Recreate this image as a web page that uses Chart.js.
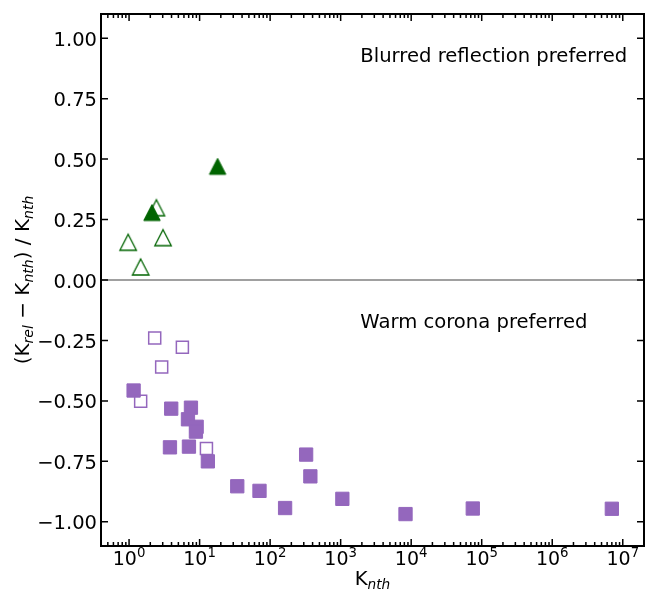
<!DOCTYPE html>
<html>
<head>
<meta charset="utf-8">
<script src="https://cdn.jsdelivr.net/npm/chart.js@4.4.1/dist/chart.umd.min.js"></script>
<style>
  html, body { margin: 0; padding: 0; background: #fff; }
  #wrap { width: 655px; height: 591px; }
</style>
</head>
<body>
<div id="wrap"><canvas id="chart" width="655" height="591"></canvas></div>
<script>
// valeurs
const kNthOpenTri = [0.97, 1.46, 2.44, 3.03];
const ratioOpenTri = [0.156, 0.054, 0.299, 0.175];
const kNthFilledTri = [2.11, 18.0];
const ratioFilledTri = [0.279, 0.470];
const kNthOpenSq = [2.31, 5.70, 2.90, 1.46, 12.5];
const ratioOpenSq = [-0.240, -0.278, -0.360, -0.501, -0.697];
const kNthFilledSq = [1.16, 3.96, 7.54, 6.84, 9.08, 8.87, 3.80, 7.06, 13.1, 34.2, 70.7, 163, 324, 372, 1057, 8310, 74700, 7.0e6];
const ratioFilledSq = [-0.457, -0.532, -0.528, -0.576, -0.607, -0.627, -0.692, -0.689, -0.750, -0.853, -0.872, -0.943, -0.722, -0.812, -0.905, -0.968, -0.945, -0.946];

// ticks
const xMajorTicks = [1, 10, 100, 1e3, 1e4, 1e5, 1e6, 1e7];
const xTickExp = ['0', '1', '2', '3', '4', '5', '6', '7'];
const yTicks = [1, 0.75, 0.5, 0.25, 0, -0.25, -0.5, -0.75, -1];
const yTickLabels = ['1.00', '0.75', '0.50', '0.25', '0.00', '\u22120.25', '\u22120.50', '\u22120.75', '\u22121.00'];

// annotations (coordonnées données)
const notes = [
    { text: 'Blurred reflection preferred', x: 1900, y: 0.9 },
    { text: 'Warm corona preferred', x: 1900, y: -0.2 }
];

const GREEN = '#006400';
const PURPLE = '#9467bd';
const FONT = "'DejaVu Sans', sans-serif";

function toPoints(xs, ys) {
    return xs.map((x, i) => ({ x: x, y: ys[i] }));
}

// triangle centré sur sa boîte englobante (comme matplotlib '^')
function triangleImg(filled) {
    const c = document.createElement('canvas');
    c.width = 24; c.height = 24;
    const g = c.getContext('2d');
    const w = 16.5, h = 16;
    g.beginPath();
    g.moveTo(12, 12 - h / 2);
    g.lineTo(12 + w / 2, 12 + h / 2);
    g.lineTo(12 - w / 2, 12 + h / 2);
    g.closePath();
    g.strokeStyle = GREEN;
    if (filled) {
        g.fillStyle = GREEN;
        g.fill();
        g.lineWidth = 1;
    } else {
        g.lineWidth = 1.3;
    }
    g.stroke();
    return c;
}

// texte avec indices / exposants façon mathtext
function richWidth(ctx, parts, size) {
    let w = 0;
    parts.forEach(p => {
        const s = p[1] === 'n' ? size : size * 0.7;
        ctx.font = (p[1] === 'sub' ? 'italic ' : '') + s + 'px ' + FONT;
        w += ctx.measureText(p[0]).width;
    });
    return w;
}

function drawRich(ctx, parts, x, y, size, align) {
    const w = richWidth(ctx, parts, size);
    let cx = align === 'center' ? x - w / 2 : (align === 'right' ? x - w : x);
    ctx.textAlign = 'left';
    ctx.textBaseline = 'alphabetic';
    parts.forEach(p => {
        let s = size, dy = 0, style = '';
        if (p[1] === 'sub') { s = size * 0.7; dy = size * 0.22; style = 'italic '; }
        if (p[1] === 'sup') { s = size * 0.7; dy = -size * 0.4; }
        ctx.font = style + s + 'px ' + FONT;
        ctx.fillText(p[0], cx, y + dy);
        cx += ctx.measureText(p[0]).width;
    });
}

const decor = {
    id: 'decor',
    beforeDatasetsDraw(chart) {
        const ctx = chart.ctx, a = chart.chartArea;
        const y0 = chart.scales.y.getPixelForValue(0);
        ctx.save();
        ctx.strokeStyle = '#808080';
        ctx.lineWidth = 1.5;
        ctx.beginPath();
        ctx.moveTo(a.left, y0);
        ctx.lineTo(a.right, y0);
        ctx.stroke();
        ctx.restore();
    },
    afterDraw(chart) {
        const ctx = chart.ctx, a = chart.chartArea;
        const xs = chart.scales.x, ys = chart.scales.y;
        ctx.save();
        ctx.strokeStyle = '#000';
        ctx.fillStyle = '#000';
        ctx.lineWidth = 1.5;

        // ticks vers l'intérieur
        ctx.beginPath();
        xMajorTicks.forEach(v => {
            const px = xs.getPixelForValue(v);
            ctx.moveTo(px, a.bottom); ctx.lineTo(px, a.bottom - 7);
            ctx.moveTo(px, a.top); ctx.lineTo(px, a.top + 7);
        });
        for (let e = -1; e <= 7; e++) {
            for (let m = 2; m <= 9; m++) {
                const v = m * Math.pow(10, e);
                if (v < xs.min || v > xs.max) continue;
                const px = xs.getPixelForValue(v);
                ctx.moveTo(px, a.bottom); ctx.lineTo(px, a.bottom - 4);
                ctx.moveTo(px, a.top); ctx.lineTo(px, a.top + 4);
            }
        }
        yTicks.forEach(v => {
            const py = ys.getPixelForValue(v);
            ctx.moveTo(a.left, py); ctx.lineTo(a.left + 7, py);
            ctx.moveTo(a.right, py); ctx.lineTo(a.right - 7, py);
        });
        ctx.stroke();

        // cadre
        ctx.lineWidth = 2;
        ctx.strokeRect(a.left, a.top, a.right - a.left, a.bottom - a.top);

        // labels des ticks
        ctx.textAlign = 'right';
        ctx.textBaseline = 'alphabetic';
        ctx.font = '19.5px ' + FONT;
        yTicks.forEach((v, i) => {
            const py = ys.getPixelForValue(v);
            ctx.fillText(yTickLabels[i], a.left - 4, py + 7.5);
        });
        xMajorTicks.forEach((v, i) => {
            const px = xs.getPixelForValue(v);
            drawRich(ctx, [['10', 'n'], [xTickExp[i], 'sup']], px, a.bottom + 18.5, 19, 'center');
        });

        // annotations
        ctx.textAlign = 'left';
        ctx.font = '19.6px ' + FONT;
        notes.forEach(n => {
            ctx.fillText(n.text, xs.getPixelForValue(n.x), ys.getPixelForValue(n.y));
        });

        // titres des axes
        drawRich(ctx, [['K', 'n'], ['nth', 'sub']], (a.left + a.right) / 2, 585, 19.6, 'center');
        ctx.save();
        ctx.translate(29, (a.top + a.bottom) / 2);
        ctx.rotate(-Math.PI / 2);
        drawRich(ctx, [['(K', 'n'], ['rel', 'sub'], [' \u2212 K', 'n'], ['nth', 'sub'], [') / K', 'n'], ['nth', 'sub']], 0, 0, 20, 'center');
        ctx.restore();

        ctx.restore();
    }
};

const zeroFit = function(scale) { if (scale.isHorizontal()) scale.height = 0; else scale.width = 0; };

const chart = new Chart(document.getElementById('chart').getContext('2d'), {
    type: 'scatter',
    data: {
        datasets: [{
            label: 'open squares',
            data: toPoints(kNthOpenSq, ratioOpenSq),
            pointStyle: 'rect',
            pointRadius: 8.5,
            borderWidth: 1.5,
            borderColor: PURPLE,
            backgroundColor: 'rgba(0,0,0,0)'
        }, {
            label: 'filled squares',
            data: toPoints(kNthFilledSq, ratioFilledSq),
            pointStyle: 'rect',
            pointRadius: 9.4,
            borderWidth: 1,
            borderColor: PURPLE,
            backgroundColor: PURPLE
        }, {
            label: 'open triangles',
            data: toPoints(kNthOpenTri, ratioOpenTri),
            pointStyle: triangleImg(false)
        }, {
            label: 'filled triangles',
            data: toPoints(kNthFilledTri, ratioFilledTri),
            pointStyle: triangleImg(true)
        }]
    },
    options: {
        responsive: false,
        animation: false,
        events: [],
        layout: { padding: { left: 101, right: 11, top: 14, bottom: 45 } },
        plugins: { legend: { display: false }, tooltip: { enabled: false } },
        scales: {
            x: {
                type: 'logarithmic', min: 0.4, max: 2e7,
                ticks: { display: false },
                grid: { display: false, drawTicks: false },
                border: { display: false },
                afterFit: zeroFit
            },
            y: {
                min: -1.1, max: 1.1,
                ticks: { display: false },
                grid: { display: false, drawTicks: false },
                border: { display: false },
                afterFit: zeroFit
            }
        }
    },
    plugins: [decor]
});
</script>
</body>
</html>
